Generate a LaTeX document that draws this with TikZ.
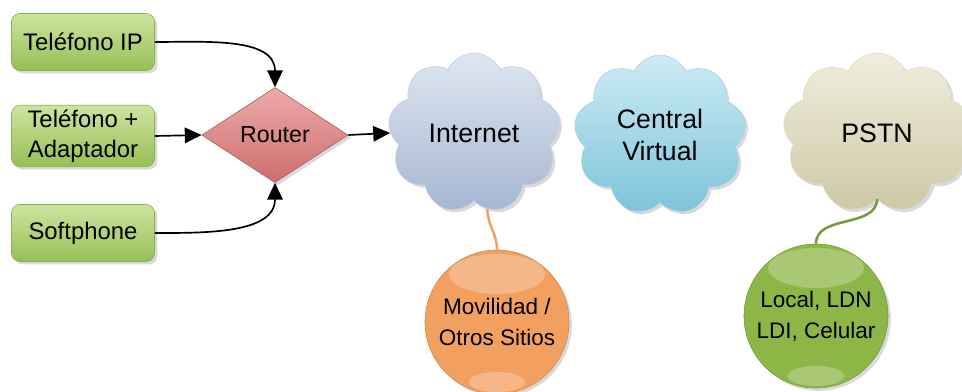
\documentclass[tikz,border=0pt]{standalone}
\usepackage{fontspec}
\setmainfont{Liberation Sans}
\usetikzlibrary{positioning, shapes.geometric, shapes.symbols, shadows, arrows.meta}
\definecolor{devtop}{RGB}{205,228,160}
\definecolor{devbot}{RGB}{150,192,85}
\definecolor{devedge}{RGB}{135,175,75}
\definecolor{routtop}{RGB}{238,170,170}
\definecolor{routbot}{RGB}{205,110,110}
\definecolor{inettop}{RGB}{222,230,240}
\definecolor{inetbot}{RGB}{165,182,210}
\definecolor{centtop}{RGB}{205,235,245}
\definecolor{centbot}{RGB}{125,195,218}
\definecolor{pstntop}{RGB}{240,238,220}
\definecolor{pstnbot}{RGB}{205,200,165}
\definecolor{orball}{RGB}{242,160,95}
\definecolor{grball}{RGB}{140,182,70}
\tikzset{
device/.style={draw=devedge, rounded corners=6pt, top color=devtop, bottom color=devbot, minimum width=3.575cm, minimum height=1.425cm, align=center, font=\fontsize{17}{21}\selectfont, drop shadow={opacity=0.3, shadow xshift=2pt, shadow yshift=-2pt}},
router/.style={diamond, draw=routbot!80!black, top color=routtop, bottom color=routbot, minimum width=3.65cm, minimum height=2.375cm, inner sep=0pt, font=\fontsize{16.5}{20}\selectfont, drop shadow={opacity=0.3, shadow xshift=2pt, shadow yshift=-2pt}},
net/.style={cloud, cloud puffs=9, cloud puff arc=130, cloud ignores aspect, minimum width=4.3cm, minimum height=4cm, inner sep=0pt, align=center, font=\fontsize{19}{23}\selectfont, drop shadow={opacity=0.3, shadow xshift=2pt, shadow yshift=-2pt}},
ball/.style={circle, minimum size=3.6cm, align=center, font=\fontsize{16}{22}\selectfont, drop shadow={opacity=0.3, shadow xshift=2pt, shadow yshift=-2pt},
  path picture={\fill[white, opacity=0.25] ([yshift=-0.6cm]path picture bounding box.north) ellipse (1.2cm and 0.5cm);
                \fill[white, opacity=0.25] ([yshift=0.3cm]path picture bounding box.south) ellipse (0.7cm and 0.25cm);}},
link/.style={-{Triangle[length=12pt, width=11pt]}, line width=1.2pt},
}

\begin{document}
\begin{tikzpicture}[x=0.025cm, y=-0.025cm]
    \useasboundingbox (0,0) rectangle (962,392);

    %devices
    \node[device] (ip) at (83,42) {Teléfono IP};
    \node[device] (ata) at (83,136) {Teléfono +\\Adaptador};
    \node[device] (soft) at (83,233) {Softphone};
    \node[router] (rt) at (275,135) {Router};

    %clouds
    \node[net, draw=inetbot!70!white, top color=inettop, bottom color=inetbot] (inet) at (474,133) {Internet};
    \node[net, draw=centbot!70!white, top color=centtop, bottom color=centbot] (pbx) at (660,135) {Central\\Virtual};
    \node[net, draw=pstnbot!70!white, top color=pstntop, bottom color=pstnbot, minimum width=4.7cm] (pstn) at (877,133) {PSTN};

    %balls
    \node[ball, draw=orball!85!black, fill=orball] (mov) at (497,322) {Movilidad /\\Otros Sitios};
    \node[ball, draw=grball!85!black, fill=grball] (tel) at (816,316) {Local, LDN\\LDI, Celular};

    \draw[link] (ip.east) to[out=0, in=90] (rt.north);
    \draw[link] (ata.east) -- (rt.west);
    \draw[link] (soft.east) to[out=0, in=-90] (rt.south);
    \draw[link] (rt.east) -- (inet.west);
    \draw[orball, line width=1.8pt] (inet.-80) to[out=-90, in=90] (mov.north);
    \draw[grball!85!black, line width=1.8pt] (pstn.-90) to[out=-90, in=90] (tel.north);
\end{tikzpicture}
\end{document}
